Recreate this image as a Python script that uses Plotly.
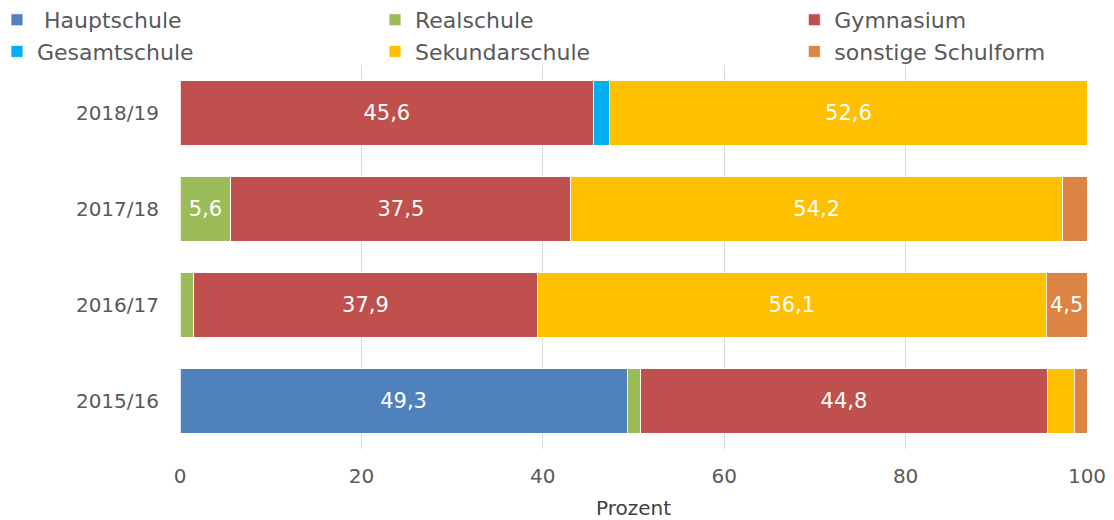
import plotly.graph_objects as go

categories = ["2015/16", "2016/17", "2017/18", "2018/19"]
series_names = [" Hauptschule", "Realschule", "Gymnasium", "Gesamtschule", "Sekundarschule", "sonstige Schulform"]
hauptschule = [49.3, 0.0, 0.0, 0.0]
realschule = [1.5, 1.5, 5.6, 0.0]
gymnasium = [44.8, 37.9, 37.5, 45.6]
gesamtschule = [0.0, 0.0, 0.0, 1.8]
sekundarschule = [3.0, 56.1, 54.2, 52.6]
sonstige = [1.4, 4.5, 2.7, 0.0]
x_ticks = [0, 20, 40, 60, 80, 100]

values = [hauptschule, realschule, gymnasium, gesamtschule, sekundarschule, sonstige]
colors = ["#4F81BD", "#9BBB59", "#C0504D", "#00B0F0", "#FFC000", "#DB8443"]
legends = ["legend", "legend2", "legend3", "legend", "legend2", "legend3"]

font_family = "DejaVu Sans, Verdana, sans-serif"
fig = go.Figure()
for name, vals, col, lg in zip(series_names, values, colors, legends):
    labels = [(f"{v:.1f}".replace(".", ",") if v >= 4.5 else "") for v in vals]
    fig.add_trace(go.Bar(
        y=categories, x=vals, name=name, orientation="h",
        marker=dict(color=col, line=dict(color="rgba(255,255,255,0.8)", width=1)),
        text=labels, textposition="inside", insidetextanchor="middle",
        constraintext="none", textangle=0,
        textfont=dict(color="white", size=21, family=font_family),
        legend=lg, hoverinfo="x+name",
    ))

legend_common = dict(orientation="v", xref="paper", yref="paper",
                     yanchor="top", y=1.1719, xanchor="left", traceorder="normal",
                     font=dict(size=22, color="#595959", family=font_family),
                     bgcolor="rgba(0,0,0,0)", borderwidth=0, tracegroupgap=0)

fig.update_layout(
    width=1114, height=520,
    barmode="stack", bargap=0.333,
    plot_bgcolor="white", paper_bgcolor="white",
    margin=dict(l=172, r=35, t=57, b=79, autoexpand=False),
    font=dict(family=font_family, size=20, color="#595959"),
    legend=dict(x=-0.2018, **legend_common),
    legend2=dict(x=0.2150, **legend_common),
    legend3=dict(x=0.6773, **legend_common),
    xaxis=dict(range=[0, 100], tickvals=x_ticks, showgrid=True, gridcolor="#D9D9D9",
               gridwidth=1, zeroline=False, showline=False, ticks="",
               ticklabelstandoff=13, automargin=False,
               title=dict(text="Prozent", font=dict(size=20, color="#404040"), standoff=13),
               tickfont=dict(size=20, color="#595959")),
    yaxis=dict(showgrid=False, zeroline=False, showline=False, ticks="",
               ticklabelstandoff=20, automargin=False,
               tickfont=dict(size=20, color="#595959")),
    separators=",.",
)

fig.write_html("out.html")
